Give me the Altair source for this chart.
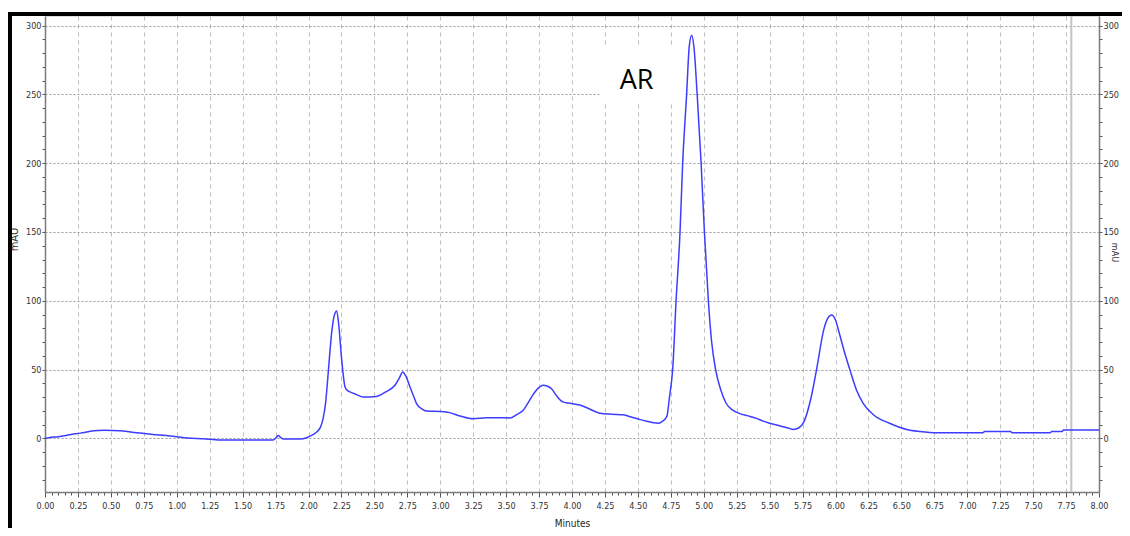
import altair as alt
import pandas as pd

# ---- data ----
time_min = [0.00, 0.03, 0.10, 0.20, 0.27, 0.37, 0.45, 0.57, 0.65, 0.72, 0.82, 0.92, 1.00, 1.08,
            1.20, 1.33, 1.50, 1.65, 1.73, 1.755, 1.77, 1.79, 1.81, 1.94, 1.98, 2.01, 2.04, 2.06,
            2.09, 2.11, 2.13, 2.15, 2.176, 2.195, 2.214, 2.23, 2.25, 2.265, 2.277, 2.30, 2.315,
            2.36, 2.416, 2.517, 2.59, 2.656, 2.69, 2.715, 2.74, 2.77, 2.80, 2.82, 2.86, 2.897,
            3.00, 3.07, 3.15, 3.25, 3.35, 3.45, 3.53, 3.58, 3.63, 3.68, 3.71, 3.75, 3.78, 3.81,
            3.845, 3.88, 3.93, 3.97, 4.06, 4.13, 4.21, 4.30, 4.39, 4.45, 4.52, 4.58, 4.62, 4.655,
            4.68, 4.72, 4.74, 4.764, 4.79, 4.82, 4.84, 4.87, 4.89, 4.908, 4.925, 4.95, 4.98,
            5.005, 5.035, 5.06, 5.09, 5.13, 5.17, 5.22, 5.275, 5.33, 5.40, 5.45, 5.50, 5.58,
            5.64, 5.68, 5.72, 5.76, 5.81, 5.86, 5.91, 5.94, 5.97, 6.00, 6.03, 6.07, 6.11, 6.16,
            6.21, 6.29, 6.41, 6.54, 6.64, 6.77, 7.12, 7.13, 7.33, 7.34, 7.63, 7.64, 7.72, 7.73,
            8.00]
absorbance_mau = [0.0, 0.5, 1.2, 2.8, 3.8, 5.5, 5.8, 5.5, 4.6, 3.8, 2.8, 2.0, 1.2, 0.3,
                  -0.3, -1.2, -1.2, -1.2, -1.2, 0.5, 2.0, 0.5, -0.5, -0.5, 0.2, 1.5, 3.0, 4.4,
                  8, 14, 26, 48, 77, 89, 92.6, 82, 59, 45, 37.4, 34.5, 33.8,
                  32, 30, 30.5, 34, 38.6, 44, 48.3, 45, 37.4, 30, 25.3, 21.5, 19.9,
                  19.5, 18.7, 16.3, 14.3, 15.0, 15.0, 14.8, 17.3, 20.4, 28, 32.6, 37, 38.6, 38,
                  36, 31.3, 26.5, 25.7, 24.2, 21.5, 18.3, 17.5, 17.1, 15.5, 13.6, 12.2, 11.3, 11,
                  12, 16, 30, 50, 100, 150, 200, 250, 285, 293, 285, 250, 200,
                  150, 100, 70, 50, 35, 25.5, 20.5, 18, 16.5, 14.5, 12.5, 11, 9,
                  7.5, 6.5, 7.5, 12, 27.7, 52, 78.7, 87, 89.6, 86, 76, 62, 49.6, 35,
                  25.5, 17, 11, 6.5, 5, 4, 4, 5, 5, 4, 4, 5, 5, 6,
                  6]

x_tick_values = [round(i * 0.05, 2) for i in range(161)]
y_tick_values = list(range(-30, 301, 10))

annotation_text = ["AR"]
annotation_t = [4.49]
annotation_v = [260]

box_t = [4.21]
box_t2 = [4.86]
box_v = [244]
box_v2 = [286]

marker_t = [7.79]

FONT = "Liberation Sans Narrow, DejaVu Sans Condensed, sans-serif"

df = pd.DataFrame({"t": time_min, "v": absorbance_mau})
ann = pd.DataFrame({"t": annotation_t, "v": annotation_v, "label": annotation_text})
box = pd.DataFrame({"t": box_t, "t2": box_t2, "v": box_v, "v2": box_v2})
marker = pd.DataFrame({"t": marker_t})

xscale = alt.Scale(domain=[0, 8], nice=False, zero=False)
yscale = alt.Scale(domain=[-39, 307], nice=False, zero=False)

major_x = "abs(datum.value*4 - round(datum.value*4)) < 0.001"
major_y = "abs(datum.value/50 - round(datum.value/50)) < 0.001"

x_axis = alt.Axis(
    values=x_tick_values,
    title="Minutes",
    grid=True,
    labelExpr=f"({major_x}) ? format(datum.value, '.2f') : ''",
    labelOverlap=False,
    labelFont=FONT, labelFontSize=9, labelColor="#333333", labelPadding=4,
    labelFlush=False,
    tickSize={"condition": {"test": major_x, "value": 5}, "value": 3},
    tickColor="#555555", tickWidth=1,
    domainColor="#7a7a7a", domainWidth=1.5,
    gridOpacity={"condition": {"test": major_x, "value": 1}, "value": 0},
    gridDash=[4, 4], gridColor="#bdbdbd", gridWidth=1,
    titleFont=FONT, titleFontSize=10, titleFontWeight="normal", titleColor="#222222",
    titleY=31, titleBaseline="middle",
)

y_axis_left = alt.Axis(
    values=y_tick_values,
    title="mAU",
    grid=True,
    labelExpr=f"({major_y}) ? format(datum.value, 'd') : ''",
    labelOverlap=False,
    labelFont=FONT, labelFontSize=9, labelColor="#333333", labelPadding=1,
    labelFlush=False,
    tickSize=3, tickColor="#555555",
    domainColor="#7a7a7a", domainWidth=1.5,
    gridOpacity={"condition": {"test": major_y, "value": 1}, "value": 0},
    gridDash=[2, 2], gridColor="#9a9a9a", gridWidth=1,
    titleFont=FONT, titleFontSize=11, titleFontWeight="normal", titleColor="#333333",
    titleAngle=270, titleX=-31, titleY=223, titleAlign="center", titleBaseline="middle",
)

y_axis_right = alt.Axis(
    orient="right",
    values=y_tick_values,
    title="mAU",
    grid=False,
    labelExpr=f"({major_y}) ? format(datum.value, 'd') : ''",
    labelOverlap=False,
    labelFont=FONT, labelFontSize=9, labelColor="#333333", labelPadding=1,
    labelFlush=False,
    tickSize=3, tickColor="#555555",
    domainColor="#7a7a7a", domainWidth=1.5,
    titleFont=FONT, titleFontSize=9, titleFontWeight="normal", titleColor="#333333",
    titleAngle=90, titleX=15, titleY=236, titleAlign="center", titleBaseline="middle",
)

white_box = alt.Chart(box).mark_rect(color="white").encode(
    x=alt.X("t:Q", scale=xscale, axis=x_axis),
    x2="t2:Q",
    y=alt.Y("v:Q", scale=yscale, axis=y_axis_right),
    y2="v2:Q",
)

marker_line = alt.Chart(marker).mark_rule(color="#c4c4c4", strokeWidth=2).encode(
    x=alt.X("t:Q", scale=xscale, axis=x_axis),
)

trace = alt.Chart(df).mark_line(color="#3d3dff", strokeWidth=1.5, interpolate="monotone").encode(
    x=alt.X("t:Q", scale=xscale, axis=x_axis),
    y=alt.Y("v:Q", scale=yscale, axis=y_axis_left),
)

label = alt.Chart(ann).mark_text(
    font="Open Sans", fontSize=27, color="black", align="center", baseline="middle"
).encode(
    x=alt.X("t:Q", scale=xscale, axis=x_axis),
    y=alt.Y("v:Q", scale=yscale, axis=None),
    text="label:N",
)

frame_data = pd.DataFrame({"k": [0]})
frame_top = alt.Chart(frame_data).mark_rule(color="black", strokeWidth=4).encode(
    x=alt.value(-37), x2=alt.value(1085), y=alt.value(-2)
)
frame_left = alt.Chart(frame_data).mark_rule(color="black", strokeWidth=4).encode(
    x=alt.value(-35), y=alt.value(-4), y2=alt.value(520)
)

chart = alt.layer(white_box, marker_line, trace, label, frame_top, frame_left).resolve_scale(
    y="independent"
).properties(
    width=1054,
    height=476,
    padding={"left": 37, "top": 8, "right": 23, "bottom": 36},
    autosize=alt.AutoSizeParams(type="none"),
).configure_view(stroke=None).configure(background="white")

chart.save("out.html", embed_options={"renderer": "svg", "actions": False})
